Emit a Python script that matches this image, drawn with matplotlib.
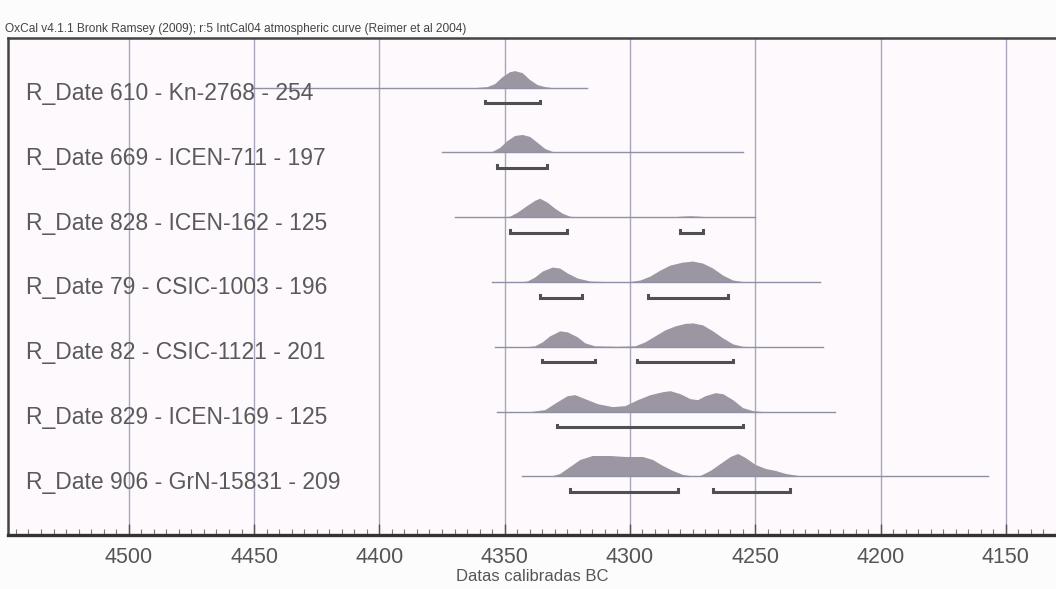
import numpy as np
import matplotlib
matplotlib.use("Agg")
import matplotlib.pyplot as plt
from matplotlib.ticker import MultipleLocator

matplotlib.rcParams.update({
    "font.family": ["Liberation Sans", "DejaVu Sans"],
})

TITLE = "OxCal v4.1.1 Bronk Ramsey (2009); r:5 IntCal04 atmospheric curve (Reimer et al 2004)"
XLABEL = "Datas calibradas BC"

labels = [
    "R_Date 610 - Kn-2768 - 254",
    "R_Date 669 - ICEN-711 - 197",
    "R_Date 828 - ICEN-162 - 125",
    "R_Date 79 - CSIC-1003 - 196",
    "R_Date 82 - CSIC-1121 - 201",
    "R_Date 829 - ICEN-169 - 125",
    "R_Date 906 - GrN-15831 - 209",
]

# likelihood line extent (cal BC) for each date
line_from = [4451, 4375, 4370, 4355, 4354, 4353, 4343]
line_to   = [4317, 4255, 4250, 4224, 4223, 4218, 4157]

# calibrated probability (relative), years BC
years = [
    [4362, 4357, 4354, 4351, 4348, 4346, 4343, 4340, 4337, 4334, 4331],
    [4360, 4355, 4352, 4349, 4346, 4343, 4340, 4337, 4334, 4331, 4328],
    [4352, 4348, 4345, 4341, 4338, 4336, 4333, 4330, 4327, 4324, 4321,
     4284, 4280, 4276, 4272, 4268],
    [4345, 4341, 4338, 4335, 4331, 4328, 4325, 4321, 4316, 4310, 4300,
     4296, 4292, 4288, 4284, 4279, 4275, 4271, 4267, 4263, 4259, 4255, 4250],
    [4342, 4338, 4335, 4332, 4328, 4325, 4321, 4318, 4314, 4305, 4298,
     4294, 4290, 4286, 4282, 4278, 4275, 4271, 4267, 4263, 4259, 4255, 4250],
    [4340, 4334, 4329, 4325, 4322, 4318, 4313, 4307, 4302, 4297, 4292,
     4287, 4284, 4280, 4276, 4273, 4270, 4266, 4263, 4259, 4255, 4251, 4247],
    [4332, 4328, 4324, 4320, 4315, 4308, 4302, 4295, 4291, 4287, 4283,
     4279, 4275, 4272, 4268, 4264, 4260, 4257, 4254, 4250, 4246, 4242,
     4238, 4233, 4229],
]
prob = [
    [0, 1, 4, 11, 16, 17, 15, 8, 3, 1, 0],
    [0, 1, 5, 12, 17, 18, 16, 10, 4, 1, 0],
    [0, 1, 5, 12, 17, 19, 15, 9, 4, 1, 0,
     0, 1, 1.5, 1, 0],
    [0, 1, 5, 11, 15, 14, 9, 4, 1, 0.5, 0.5,
     2, 6, 12, 17, 20, 21, 19, 14, 7, 2, 0.5, 0],
    [0, 1, 5, 11, 16, 15, 10, 4, 1, 0.5, 1,
     5, 11, 17, 21, 23.5, 24, 22, 16, 9, 3, 0.5, 0],
    [0, 2, 10, 16, 17, 13, 8, 5, 6, 12, 17,
     20, 21, 18, 13, 12, 16, 19, 18, 12, 4, 1, 0],
    [0, 3, 10, 17, 21, 21, 20, 20, 17, 11, 6,
     2, 0.5, 1, 6, 13, 20, 23, 19, 12, 8, 6,
     3, 1, 0],
]

# 95.4% ranges (cal BC) under each date
ranges = [
    [(4358, 4336)],
    [(4353, 4333)],
    [(4348, 4325), (4280, 4271)],
    [(4336, 4319), (4293, 4261)],
    [(4335, 4314), (4297, 4259)],
    [(4329, 4255)],
    [(4324, 4281), (4267, 4236)],
]

PROB_SCALE = 1 / 65.0     # probability units -> row heights
RANGE_OFFSET = 0.24       # bracket sits below the baseline
FILL = "#9c96a2"
BASE = "#8f8fa6"
GRID = "#aaa6be"
TEXT = "#5a5a5a"

fig = plt.figure(figsize=(10.56, 5.89), dpi=100, facecolor="#fdfcfd")
ax = fig.add_axes([0.008, 0.091, 0.992, 0.845], facecolor="#fdf9fc")

n = len(labels)
for i in range(n):
    ax.plot([line_from[i], line_to[i]], [i, i], color=BASE, lw=1.0, zorder=3)
    y = np.array(prob[i]) * PROB_SCALE
    ax.fill_between(years[i], i, i - y, color=FILL, lw=0, zorder=2)
    for a, b in ranges[i]:
        yr = i + RANGE_OFFSET
        ax.plot([a, a, b, b], [yr - 0.04, yr, yr, yr - 0.04],
                color="#505050", lw=2.2, solid_joinstyle="miter", zorder=4)
    ax.text(4541, i + 0.09, labels[i], fontsize=16.5, color=TEXT,
            ha="left", va="center", zorder=5)

ax.set_xlim(4548, 4130)
ax.set_ylim(n - 0.09, -0.77)

ax.xaxis.set_major_locator(MultipleLocator(50))
ax.xaxis.set_minor_locator(MultipleLocator(5))
ax.grid(axis="x", which="major", color=GRID, lw=1.0, zorder=1)
ax.tick_params(axis="x", which="major", direction="in", length=8, width=1,
               color="#555555", labelsize=15.5, labelcolor="#555555", pad=8)
ax.tick_params(axis="x", which="minor", direction="in", length=4, width=0.8,
               color="#777777")
ax.set_yticks([])

for side in ["left", "top"]:
    ax.spines[side].set_color("#444444")
    ax.spines[side].set_linewidth(1.8)
ax.spines["right"].set_visible(False)
ax.spines["bottom"].set_color("#333333")
ax.spines["bottom"].set_linewidth(2.4)

ax.set_xlabel(XLABEL, fontsize=12, color="#555555", labelpad=1)
fig.text(0.005, 0.951, TITLE, fontsize=8.6, color="#444444",
         ha="left", va="center")

fig.savefig("out.png", dpi=100, facecolor=fig.get_facecolor())
